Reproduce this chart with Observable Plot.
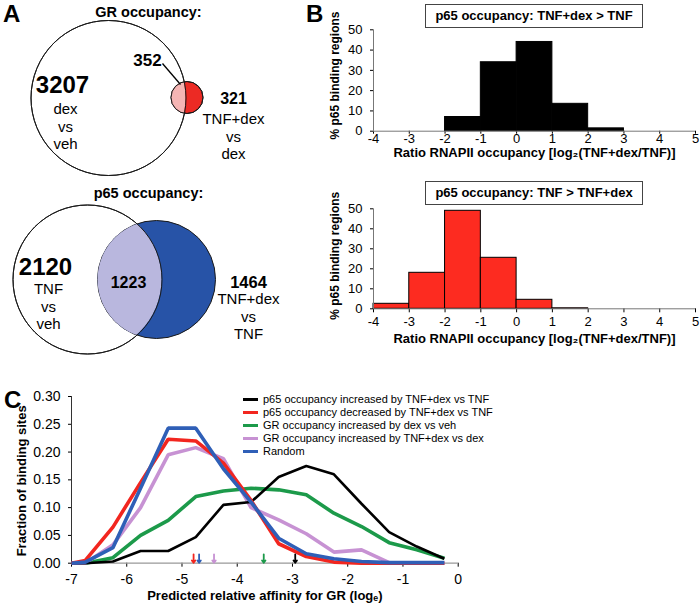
<!DOCTYPE html>
<html>
<head>
<meta charset="utf-8">
<script src="https://cdn.jsdelivr.net/npm/d3@7"></script>
<script src="https://cdn.jsdelivr.net/npm/@observablehq/plot@0.6"></script>
<style>
  html, body { margin: 0; padding: 0; background: #fff; overflow: hidden; }
  #root { position: relative; width: 700px; height: 605px; font-family: Arial, "Liberation Sans", sans-serif; color: #000; }
  .slot { position: absolute; }
  .slot svg { overflow: visible; }
  .letter { position: absolute; font-weight: bold; font-size: 24px; line-height: 24px; }
  .box { position: absolute; border: 1px solid #444; box-sizing: border-box; font-weight: bold; font-size: 13px; text-align: center; background: #fff; white-space: nowrap; }
  .legend { position: absolute; font-size: 11px; line-height: 13px; white-space: nowrap; }
  .legend .row { display: flex; align-items: center; height: 13px; }
  .legend .sw { display: inline-block; width: 15px; height: 3px; margin-right: 5px; }
</style>
</head>
<body>
<div id="root">
  <div class="slot" id="panelA" style="left:0;top:0"></div>
  <div class="slot" id="histUp" style="left:320px;top:0"></div>
  <div class="slot" id="histDown" style="left:320px;top:180px"></div>
  <div class="slot" id="panelC" style="left:0;top:385px"></div>
</div>
<script>
// ===================== DATA =====================
// Panel A - Venn counts and labels
const grTitle = "GR occupancy:";
const grNumbers = ["3207", "352", "321"];
const grTexts = ["dex\nvs\nveh", "TNF+dex\nvs\ndex"];
const p65Title = "p65 occupancy:";
const p65Numbers = ["2120", "1223", "1464"];
const p65Texts = ["TNF\nvs\nveh", "TNF+dex\nvs\nTNF"];

// Panel B - histograms (% of p65 binding regions per log2 ratio bin)
const binStarts = [-4, -3, -2, -1, 0, 1, 2, 3, 4];
const binEnds   = [-3, -2, -1, 0, 1, 2, 3, 4, 5];
const upPercent   = [0, 0, 7, 34, 44, 13.5, 1.4, 0, 0];     // TNF+dex > TNF
const downPercent = [2.5, 18, 49, 25.5, 4.5, 0.25, 0, 0, 0]; // TNF > TNF+dex
const histTitles = ["p65 occupancy: TNF+dex > TNF", "p65 occupancy: TNF > TNF+dex"];
const histXTicks = [-4, -3, -2, -1, 0, 1, 2, 3, 4, 5];
const histYTicks = [0, 10, 20, 30, 40, 50];

// Panel C - fraction of binding sites vs predicted affinity
const affinity = [-7, -6.75, -6.25, -5.75, -5.25, -4.75, -4.25, -3.75, -3.25, -2.75, -2.25, -1.75, -1.25, -0.75, -0.25];
const p65Up    = [0, 0, 0.003, 0.022, 0.022, 0.047, 0.105, 0.110, 0.155, 0.175, 0.160, 0.107, 0.056, 0.030, 0.008];
const p65Down  = [0, 0.005, 0.065, 0.145, 0.223, 0.220, 0.180, 0.113, 0.035, 0.012, 0.002, 0, 0, 0, 0];
const grDex    = [0, 0, 0.010, 0.050, 0.077, 0.120, 0.130, 0.135, 0.132, 0.123, 0.090, 0.066, 0.037, 0.024, 0.009];
const grTnfDex = [0, 0, 0.033, 0.100, 0.195, 0.208, 0.188, 0.100, 0.078, 0.053, 0.020, 0.024, 0.001, 0, 0];
const randomSites = [0, 0.002, 0.028, 0.135, 0.243, 0.243, 0.170, 0.110, 0.045, 0.017, 0.008, 0.003, 0.001, 0.001, 0.001];
const seriesNames = [
  "p65 occupancy increased by TNF+dex vs TNF",
  "p65 occupancy decreased by TNF+dex vs TNF",
  "GR occupancy increased by dex vs veh",
  "GR occupancy increased by TNF+dex vs dex",
  "Random"
];
const seriesValues = [p65Up, p65Down, grDex, grTnfDex, randomSites];
const medianAffinity = [-2.95, -4.79, -3.52, -4.42, -4.69];
const cXTicks = [-7, -6, -5, -4, -3, -2, -1, 0];
const cYTicks = [0, 0.05, 0.10, 0.15, 0.20, 0.25, 0.30];

// ===================== STYLE / LAYOUT =====================
const seriesColors = ["#000000", "#f2261f", "#1c9a4a", "#c792d3", "#2f5fb7"];
const seriesWidths = [2.6, 3.6, 3.6, 3.6, 3.6];
const drawOrder = [2, 3, 0, 1, 4];
const FONT = "Arial, 'Liberation Sans', sans-serif";

// Venn diagram geometry (panel units)
const grCircles = [
  {cx: 108, cy: 97.5, r: 77.5},   // dex vs veh
  {cx: 186.5, cy: 97, r: 16}      // TNF+dex vs dex
];
const p65Circles = [
  {cx: 87, cy: 279, r: 74.5},     // TNF vs veh
  {cx: 156, cy: 279, r: 59}       // TNF+dex vs TNF
];

const NS = "http://www.w3.org/2000/svg";
// Clip the mark group containing shape `el` to a circle (scaled through the plot's scales)
function clipToCircle(svg, el, c, id) {
  if (!el) return;
  const sx = svg.scale ? svg.scale("x") : null, sy = svg.scale ? svg.scale("y") : null;
  const px = sx && sx.apply ? sx.apply(c.cx) : c.cx;
  const py = sy && sy.apply ? sy.apply(c.cy) : c.cy;
  const defs = document.createElementNS(NS, "defs");
  const cp = document.createElementNS(NS, "clipPath");
  cp.setAttribute("id", id);
  cp.setAttribute("clipPathUnits", "userSpaceOnUse");
  const cc = document.createElementNS(NS, "circle");
  cc.setAttribute("cx", px); cc.setAttribute("cy", py); cc.setAttribute("r", c.r);
  cp.appendChild(cc);
  defs.appendChild(cp);
  svg.insertBefore(defs, svg.firstChild);
  const g = el.parentNode;
  const wrap = document.createElementNS(NS, "g");
  wrap.setAttribute("clip-path", `url(#${id})`);
  g.parentNode.insertBefore(wrap, g);
  wrap.appendChild(g);
}

// ===================== PANEL A =====================
{
  const circ = (c, fill, stroke) => Plot.dot([c], {x: "cx", y: "cy", r: "r", fill, stroke, strokeWidth: 1});
  const txt = (t, x, y, size, weight, extra = {}) =>
    Plot.text([t], {x: () => x, y: () => y, text: d => d, fontSize: size, fontWeight: weight, textAnchor: "middle", lineAnchor: "middle", ...extra});
  const L = {
    grTitle: [148, 12], gr0: [62, 85], gr1: [147, 60], gr2: [233, 98],
    grT0: [65, 125.5], grT1: [233, 135.5],
    p65Title: [148, 193], p0: [45, 267], p1: [128, 282], p2: [248, 282],
    pT0: [48, 305.5], pT1: [248, 315.5],
    leader: [162, 63, 180, 84]
  };
  const svg = Plot.plot({
    width: 310, height: 370,
    margin: 0,
    x: {domain: [0, 310], range: [0, 310], axis: null},
    y: {domain: [0, 370], range: [0, 370], axis: null},
    r: {type: "identity"},
    style: {fontFamily: FONT, background: "none", overflow: "visible"},
    marks: [
      // GR venn (shape indices 0..4)
      circ(grCircles[0], "#fff", "#1a1a1a"),
      circ(grCircles[1], "#ec2a24", "#1a1a1a"),
      circ(grCircles[1], "#f5b5b4", "none"),
      circ(grCircles[0], "none", "#1a1a1a"),
      circ(grCircles[1], "none", "#1a1a1a"),
      // p65 venn (shape indices 5..8)
      circ(p65Circles[0], "#fff", "#1a1a1a"),
      circ(p65Circles[1], "#2753a7", "#1a1a1a"),
      circ(p65Circles[1], "#b9b7de", "none"),
      circ(p65Circles[0], "none", "#1a1a1a"),
      // leader line
      Plot.link([L.leader], {x1: d => d[0], y1: d => d[1], x2: d => d[2], y2: d => d[3], stroke: "#000", strokeWidth: 1.3}),
      // texts
      txt(grTitle, ...L.grTitle, 14.5, "bold"),
      txt(grNumbers[0], ...L.gr0, 24, "bold"),
      txt(grNumbers[1], ...L.gr1, 17, "bold"),
      txt(grNumbers[2], ...L.gr2, 16, "bold"),
      txt(grTexts[0], ...L.grT0, 15, "normal", {lineHeight: 1.17}),
      txt(grTexts[1], ...L.grT1, 15, "normal", {lineHeight: 1.17}),
      txt(p65Title, ...L.p65Title, 14.5, "bold"),
      txt(p65Numbers[0], ...L.p0, 24, "bold"),
      txt(p65Numbers[1], ...L.p1, 16, "bold"),
      txt(p65Numbers[2], ...L.p2, 16.5, "bold"),
      txt(p65Texts[0], ...L.pT0, 15, "normal", {lineHeight: 1.17}),
      txt(p65Texts[1], ...L.pT1, 15, "normal", {lineHeight: 1.17})
    ]
  });
  const shapes = Array.from(svg.querySelectorAll("circle, path"));
  clipToCircle(svg, shapes[2], grCircles[0], "clipGR");
  clipToCircle(svg, shapes[7], p65Circles[0], "clipP65");
  document.getElementById("panelA").appendChild(svg);
}

// ===================== PANEL B =====================
function histogram(values, fill, opts) {
  const rows = binStarts.map((s, i) => ({x1: s, x2: binEnds[i], v: values[i]})).filter(d => d.v > 0);
  return Plot.plot({
    width: 380, height: opts.height,
    marginLeft: 53, marginRight: 5, marginTop: opts.top, marginBottom: opts.bottom,
    x: {domain: [-4, 5], ticks: histXTicks, tickFormat: d => String(d), tickSize: opts.tickSize, tickPadding: opts.tickPadding, label: null},
    y: {domain: [0, 50], ticks: histYTicks, tickFormat: d => String(d), tickSize: 3, tickPadding: 8, label: null},
    style: {fontFamily: FONT, fontSize: "13px", background: "none", overflow: "visible", color: "#000"},
    marks: [
      Plot.rectY(rows, {x1: "x1", x2: "x2", y: "v", fill, stroke: "#000", strokeWidth: 1}),
      Plot.ruleX([-4], {stroke: "#777"}),
      Plot.ruleY([0], {stroke: "#777"}),
      Plot.text(["% p65 binding regions"], {frameAnchor: "left", rotate: -90, dx: -38, dy: opts.labelDy, textAnchor: "middle", lineAnchor: "middle", fontWeight: "bold", fontSize: 12}),
      Plot.text(["Ratio RNAPII occupancy [log\u2082(TNF+dex/TNF)]"], {frameAnchor: "bottom", dy: opts.xLabelDy, textAnchor: "middle", lineAnchor: "middle", fontWeight: "bold", fontSize: 13})
    ]
  });
}
document.getElementById("histUp").appendChild(histogram(upPercent, "#000", {height: 160, top: 29.3, bottom: 29.3, tickSize: 3, tickPadding: 0, labelDy: -5, xLabelDy: 21.5}));
document.getElementById("histDown").appendChild(histogram(downPercent, "#fd2b20", {height: 170, top: 28.3, bottom: 41.7, tickSize: 4, tickPadding: 4, labelDy: -3, xLabelDy: 30.5}));

// ===================== PANEL C =====================
{
  const lineMarks = drawOrder.map(i => Plot.line(affinity.map((x, j) => ({x, y: seriesValues[i][j]})), {
    x: "x", y: "y", stroke: seriesColors[i], strokeWidth: seriesWidths[i], strokeLinejoin: "miter", strokeLinecap: "butt"
  }));
  const arrows = medianAffinity.map((x, i) => ({x, color: seriesColors[i]}));
  const svg = Plot.plot({
    width: 470, height: 220,
    marginLeft: 71, marginRight: 12.3, marginTop: 11, marginBottom: 42.3,
    x: {domain: [-7, 0], ticks: cXTicks, tickFormat: d => String(d), tickSize: 4, tickPadding: 7, label: null},
    y: {domain: [0, 0.30], ticks: cYTicks, tickFormat: d3.format(".2f"), tickSize: 3, tickPadding: 8, label: null},
    color: {type: "identity"},
    style: {fontFamily: FONT, fontSize: "14px", background: "none", overflow: "visible"},
    marks: [
      Plot.ruleY([0], {stroke: "#999", strokeWidth: 1.2}),
      Plot.ruleX([-7], {stroke: "#333"}),
      ...lineMarks,
      Plot.arrow(arrows, {x1: "x", x2: "x", y1: 0.016, y2: 0.0008, stroke: "color", strokeWidth: 1.8, headLength: 8, headAngle: 75}),
      Plot.text(["Fraction of binding sites"], {frameAnchor: "left", rotate: -90, dx: -49.3, dy: 1, textAnchor: "middle", lineAnchor: "middle", fontWeight: "bold", fontSize: 13}),
      Plot.text(["Predicted relative affinity for GR (log\u2091)"], {frameAnchor: "bottom", dy: 32.3, dx: 0, textAnchor: "middle", lineAnchor: "middle", fontWeight: "bold", fontSize: 13})
    ]
  });
  document.getElementById("panelC").appendChild(svg);
}

// ===================== HTML extras: panel letters, boxes, legend =====================
const root = document.getElementById("root");
function addDiv(cls, html, style) {
  const d = document.createElement("div");
  d.className = cls; d.innerHTML = html; Object.assign(d.style, style);
  root.appendChild(d); return d;
}
addDiv("letter", "A", {left: "3px", top: "2px"});
addDiv("letter", "B", {left: "306px", top: "2px"});
addDiv("letter", "C", {left: "4px", top: "388px"});
addDiv("box", histTitles[0], {left: "425px", top: "4px", width: "218px", height: "24px", lineHeight: "22px"});
addDiv("box", histTitles[1], {left: "425px", top: "181px", width: "218px", height: "24px", lineHeight: "22px"});
const legend = addDiv("legend", "", {left: "243px", top: "393px"});
seriesNames.forEach((name, i) => {
  const row = document.createElement("div");
  row.className = "row";
  row.innerHTML = `<span class="sw" style="background:${seriesColors[i]};height:${i === 0 ? 2.6 : 3.4}px"></span><span>${name}</span>`;
  legend.appendChild(row);
});
</script>
</body>
</html>
